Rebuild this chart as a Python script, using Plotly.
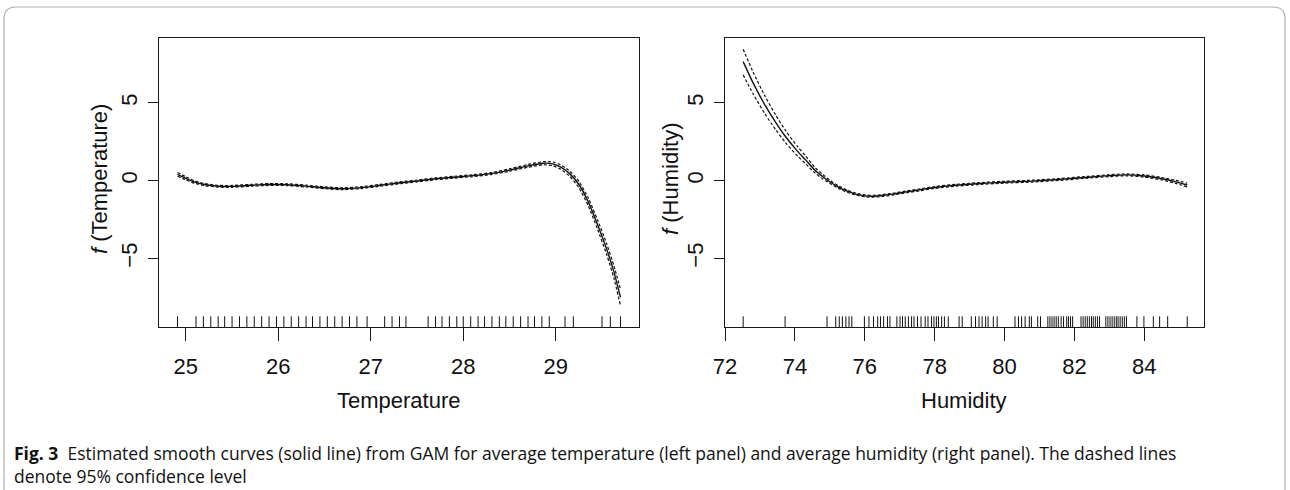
import plotly.graph_objects as go

# ---------------- data ----------------
temp_x = [24.91, 25.00, 25.10, 25.20, 25.35, 25.50, 25.70, 25.90, 26.10, 26.30, 26.50, 26.70,
          26.90, 27.10, 27.30, 27.50, 27.70, 27.90, 28.10, 28.30, 28.50, 28.70, 28.87, 28.97,
          29.05, 29.15, 29.25, 29.35, 29.45, 29.55, 29.63, 29.70]
temp_fit = [0.40, 0.15, -0.10, -0.25, -0.36, -0.37, -0.30, -0.25, -0.26, -0.35, -0.46, -0.52,
            -0.45, -0.30, -0.15, -0.02, 0.12, 0.22, 0.32, 0.45, 0.68, 0.95, 1.12, 1.08,
            0.88, 0.45, -0.25, -1.35, -2.80, -4.40, -5.90, -7.50]
temp_lo = [0.28, 0.05, -0.18, -0.32, -0.42, -0.43, -0.36, -0.31, -0.32, -0.41, -0.52, -0.58,
           -0.51, -0.36, -0.21, -0.08, 0.06, 0.16, 0.26, 0.39, 0.60, 0.86, 1.02, 0.96,
           0.74, 0.28, -0.45, -1.60, -3.10, -4.75, -6.30, -8.05]
temp_hi = [0.52, 0.25, -0.02, -0.18, -0.30, -0.31, -0.24, -0.19, -0.20, -0.29, -0.40, -0.46,
           -0.39, -0.24, -0.09, 0.04, 0.18, 0.28, 0.38, 0.51, 0.76, 1.04, 1.22, 1.20,
           1.02, 0.62, -0.05, -1.10, -2.50, -4.05, -5.50, -7.00]
temp_rug = [24.91, 25.11, 25.19, 25.27, 25.35, 25.42, 25.50, 25.58, 25.66, 25.74, 25.82, 25.90,
            25.98, 26.06, 26.14, 26.22, 26.30, 26.37, 26.45, 26.53, 26.61, 26.69, 26.77, 26.85,
            26.96, 27.15, 27.23, 27.31, 27.38, 27.62, 27.70, 27.77, 27.85, 27.93, 28.00, 28.08,
            28.16, 28.23, 28.31, 28.39, 28.46, 28.54, 28.62, 28.70, 28.77, 28.85, 28.93,
            29.10, 29.19, 29.50, 29.59, 29.70]

hum_x = [72.52, 72.80, 73.14, 73.45, 73.73, 74.08, 74.30, 74.56, 74.80, 75.03, 75.25, 75.50,
         75.75, 76.00, 76.25, 76.50, 76.80, 77.20, 77.60, 78.00, 78.60, 79.20, 80.00, 80.80,
         81.60, 82.40, 83.00, 83.50, 84.00, 84.50, 84.90, 85.23]
hum_fit = [7.65, 6.30, 4.87, 3.75, 2.84, 1.88, 1.35, 0.70, 0.25, -0.12, -0.42, -0.68,
           -0.87, -0.98, -1.00, -0.96, -0.87, -0.72, -0.58, -0.44, -0.30, -0.20, -0.10, -0.03,
           0.08, 0.22, 0.32, 0.37, 0.30, 0.12, -0.08, -0.28]
hum_lo = [6.80, 5.60, 4.30, 3.28, 2.45, 1.58, 1.10, 0.52, 0.11, -0.22, -0.50, -0.75,
          -0.93, -1.04, -1.06, -1.02, -0.93, -0.78, -0.64, -0.50, -0.36, -0.26, -0.16, -0.09,
          0.02, 0.16, 0.26, 0.31, 0.23, 0.04, -0.18, -0.40]
hum_hi = [8.45, 7.00, 5.45, 4.22, 3.23, 2.18, 1.60, 0.88, 0.39, -0.02, -0.34, -0.61,
          -0.81, -0.92, -0.94, -0.90, -0.81, -0.66, -0.52, -0.38, -0.24, -0.14, -0.04, 0.03,
          0.14, 0.28, 0.38, 0.43, 0.37, 0.20, 0.02, -0.16]
hum_rug = [72.52, 73.72, 74.92, 75.17, 75.27, 75.36, 75.46, 75.55, 75.63, 75.99, 76.12, 76.25,
           76.37, 76.45, 76.54, 76.65, 76.72, 76.92, 77.01, 77.08, 77.16, 77.25, 77.34, 77.41,
           77.51, 77.61, 77.73, 77.81, 77.91, 77.98, 78.05, 78.11, 78.20, 78.28, 78.39, 78.70,
           78.79, 79.05, 79.17, 79.27, 79.36, 79.46, 79.53, 79.68, 79.79, 80.30, 80.40, 80.49,
           80.59, 80.71, 80.77, 80.95, 81.03, 81.24, 81.30, 81.36, 81.42, 81.48, 81.54, 81.62,
           81.69, 81.78, 81.83, 81.89, 81.95, 82.19, 82.25, 82.31, 82.37, 82.43, 82.49, 82.54,
           82.60, 82.66, 82.72, 82.90, 82.96, 83.02, 83.08, 83.14, 83.20, 83.25, 83.31, 83.37,
           83.43, 83.49, 83.79, 83.99, 84.26, 84.44, 84.67, 85.23]

temp_ticks = [25, 26, 27, 28, 29]
hum_ticks = [72, 74, 76, 78, 80, 82, 84]
y_ticks = [-5, 0, 5]

caption_bold = "Fig. 3"
caption_line1 = ("Estimated smooth curves (solid line) from GAM for average temperature (left panel) and "
                 "average humidity (right panel). The dashed lines")
caption_line2 = "denote 95% confidence level"

# ---------------- figure ----------------
W, H = 1290, 490
FONT = "Liberation Sans, Arial, sans-serif"
CAPFONT = "Open Sans, Noto Sans, sans-serif"
INK = "#111111"

fig = go.Figure()

def add_panel(xs, fit, lo, hi, xa, ya):
    for ys, dash, w in ((lo, "3px,2px", 1.2), (hi, "3px,2px", 1.2), (fit, "solid", 1.4)):
        fig.add_trace(go.Scatter(x=xs, y=ys, mode="lines", xaxis=xa, yaxis=ya,
                                 line=dict(color=INK, width=w, dash=dash, shape="spline",
                                           smoothing=0.6),
                                 showlegend=False, hoverinfo="skip"))

add_panel(temp_x, temp_fit, temp_lo, temp_hi, "x", "y")
add_panel(hum_x, hum_fit, hum_lo, hum_hi, "x2", "y2")

shapes = []
for v in temp_rug:
    shapes.append(dict(type="line", xref="x", yref="y domain", x0=v, x1=v, y0=0, y1=0.037,
                       line=dict(color=INK, width=1)))
for v in hum_rug:
    shapes.append(dict(type="line", xref="x2", yref="y2 domain", x0=v, x1=v, y0=0, y1=0.037,
                       line=dict(color=INK, width=1)))

# outer rounded frame (top corners rounded, sides run off the bottom)
def px(xp, yp):
    return f"{xp / W:.5f},{1 - yp / H:.5f}"
r = 12
L, R, T, B = 4, 1285, 7, 492
path = (f"M {px(L, B)} L {px(L, T + r)} Q {px(L, T)} {px(L + r, T)} "
        f"L {px(R - r, T)} Q {px(R, T)} {px(R, T + r)} L {px(R, B)}")
shapes.append(dict(type="path", xref="paper", yref="paper", path=path,
                   line=dict(color="#b0b0b0", width=1.2), fillcolor="rgba(0,0,0,0)", layer="below"))

top, bot = 38, 327
ydom = [1 - bot / H, 1 - top / H]
axis_common = dict(showline=True, mirror=True, linecolor="#1a1a1a", linewidth=1.2,
                   ticks="outside", tickcolor="#1a1a1a", showgrid=False, zeroline=False,
                   automargin=False, tickfont=dict(family=FONT, size=22, color=INK))

fig.update_layout(
    width=W, height=H, margin=dict(l=0, r=0, t=0, b=0),
    paper_bgcolor="white", plot_bgcolor="white", template="none",
    xaxis=dict(domain=[159 / W, 639 / W], range=[24.71, 29.90], tickvals=temp_ticks,
               ticklen=13, ticklabelstandoff=6, anchor="y", **axis_common),
    yaxis=dict(domain=ydom, range=[-9.41, 9.17], tickvals=y_ticks, tickangle=-90,
               ticklen=10, ticklabelstandoff=2, anchor="x", **axis_common),
    xaxis2=dict(domain=[725 / W, 1204 / W], range=[72.0, 85.71], tickvals=hum_ticks,
                ticklen=13, ticklabelstandoff=6, anchor="y2", **axis_common),
    yaxis2=dict(domain=ydom, range=[-9.41, 9.17], tickvals=y_ticks, tickangle=-90,
                ticklen=10, ticklabelstandoff=2, anchor="x2", **axis_common),
    shapes=shapes,
)

tfont = dict(family=FONT, size=22, color=INK)
ann = [
    dict(text="Temperature", x=(159 + 639) / 2 / W, y=1 - 400 / H, font=tfont,
         xanchor="center", yanchor="middle"),
    dict(text="Humidity", x=(725 + 1204) / 2 / W, y=1 - 400 / H, font=tfont,
         xanchor="center", yanchor="middle"),
    dict(text="<i>f</i> (Temperature)", x=100 / W, y=1 - 179 / H, textangle=-90, font=tfont,
         xanchor="center", yanchor="middle"),
    dict(text="<i>f</i> (Humidity)", x=671 / W, y=1 - 179 / H, textangle=-90, font=tfont,
         xanchor="center", yanchor="middle"),
    dict(text=f"<b>{caption_bold}</b>  {caption_line1}<br>{caption_line2}", x=12 / W, y=1 - 464 / H,
         font=dict(family=CAPFONT, size=17.5, color=INK), xanchor="left", yanchor="middle",
         align="left"),
]
for a in ann:
    a.update(xref="paper", yref="paper", showarrow=False)
fig.update_layout(annotations=ann)

fig.write_html("out.html", config={"displayModeBar": False},
               post_script="document.body.style.margin='0px';")
